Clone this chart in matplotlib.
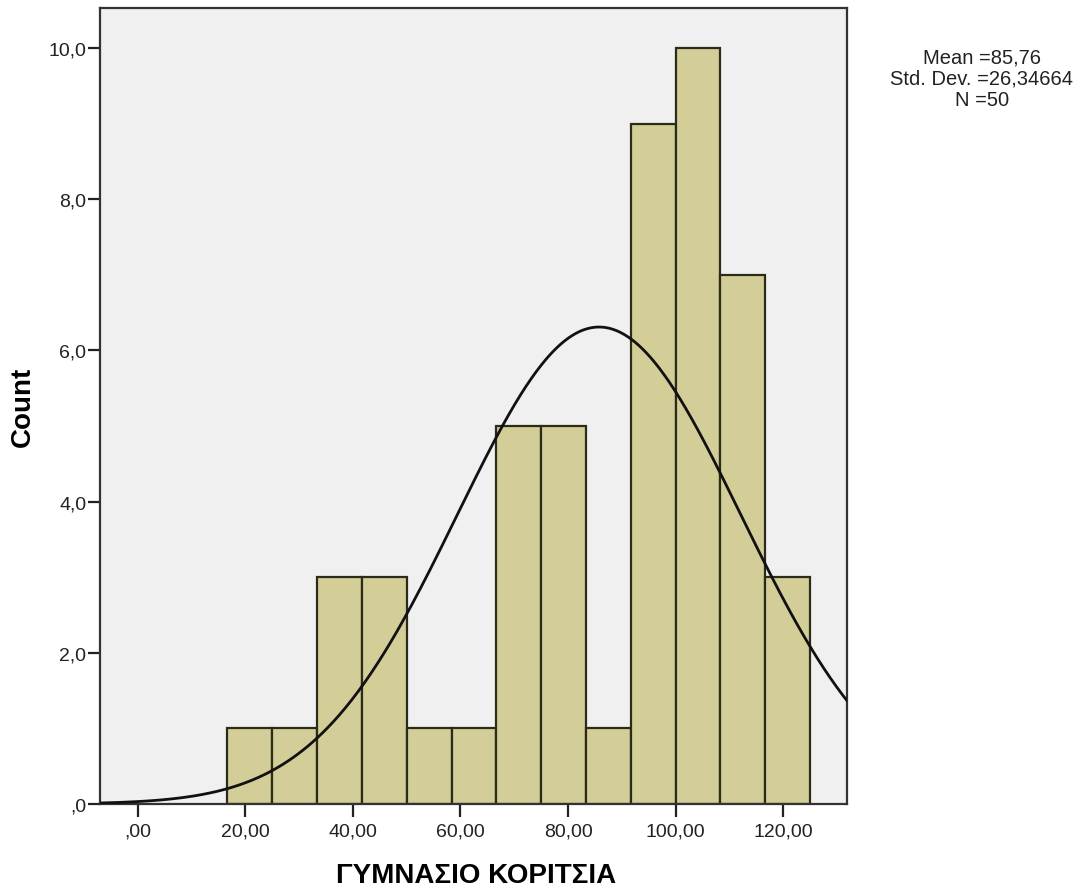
import numpy as np
import matplotlib
matplotlib.use("Agg")
import matplotlib.pyplot as plt
from matplotlib.ticker import FuncFormatter

plt.rcParams['font.family'] = ['Liberation Sans', 'DejaVu Sans']

# Histogram of scores
bin_edges = [16.6667, 25.0, 33.3333, 41.6667, 50.0, 58.3333, 66.6667,
             75.0, 83.3333, 91.6667, 100.0, 108.3333, 116.6667, 125.0]
counts = [1, 1, 3, 3, 1, 1, 5, 5, 1, 9, 10, 7, 3]
mean_val = 85.76
std_val = 26.34664
n_val = 50

x_ticks = [0, 20, 40, 60, 80, 100, 120]
y_ticks = [0, 2, 4, 6, 8, 10]
x_label = "ΓΥΜΝΑΣΙΟ ΚΟΡΙΤΣΙΑ"
y_label = "Count"

fig = plt.figure(figsize=(10.85, 8.95), dpi=100)
ax = fig.add_axes([0.0922, 0.1006, 0.6882, 0.8894])
ax.set_facecolor('#f0f0f0')

edges = np.array(bin_edges)
widths = np.diff(edges)
ax.bar(edges[:-1], counts, width=widths, align='edge',
       color='#d3ce97', edgecolor='#2b2b1a', linewidth=1.6, zorder=2)

# Fitted normal curve scaled to counts
bw = widths.mean()
xs = np.linspace(-7, 132, 600)
ys = n_val * bw / (std_val * np.sqrt(2 * np.pi)) * np.exp(-0.5 * ((xs - mean_val) / std_val) ** 2)
ax.plot(xs, ys, color='#111111', linewidth=2.0, zorder=3)

ax.set_xlim(-7.0, 131.8)
ax.set_ylim(0, 10.53)

def fmt_comma(v, decimals):
    s = f"{v:.{decimals}f}".replace('.', ',')
    if s.startswith('0,'):
        s = s[1:]
    return s

ax.set_xticks(x_ticks)
ax.set_yticks(y_ticks)
ax.xaxis.set_major_formatter(FuncFormatter(lambda v, p: fmt_comma(v, 2)))
ax.yaxis.set_major_formatter(FuncFormatter(lambda v, p: fmt_comma(v, 1)))
ax.tick_params(axis='both', direction='out', length=9, width=1.6,
               color='#222222', labelsize=14, labelcolor='#222222')
ax.tick_params(axis='y', pad=1)
ax.tick_params(axis='x', pad=4)

for sp in ax.spines.values():
    sp.set_linewidth(1.6)
    sp.set_color('#333333')

ax.set_xlabel(x_label, fontsize=20, fontweight='bold', va='center')
ax.xaxis.set_label_coords(0.503, -0.089)
ax.set_ylabel(y_label, fontsize=20, fontweight='bold', va='center')
ax.yaxis.set_label_coords(-0.103, 0.5)

stats_text = "\n".join([
    "Mean =" + f"{mean_val:.2f}".replace('.', ','),
    "Std. Dev. =" + f"{std_val:.5f}".replace('.', ','),
    "N =" + str(n_val),
])
fig.text(0.905, 0.912, stats_text, ha='center', va='center',
         fontsize=14.5, linespacing=1.15, color='#222222')

fig.savefig('out.png', dpi=100, facecolor='white')
